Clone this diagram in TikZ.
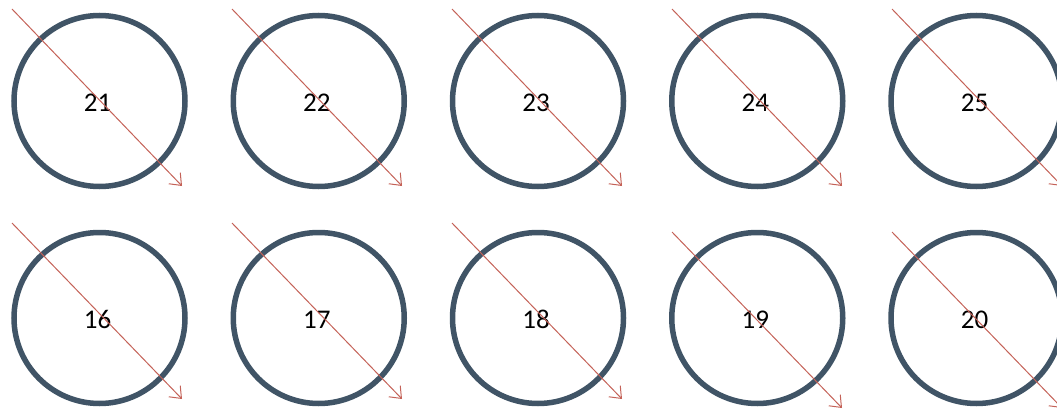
\documentclass[tikz,border=0pt]{standalone}
\usepackage{fontspec}
\setmainfont{Carlito}
\usetikzlibrary{arrows.meta}
\definecolor{ringcol}{RGB}{64,84,102}
\definecolor{arrcol}{RGB}{196,98,88}
\tikzset{
  ring/.style={circle, draw=ringcol, line width=5.5pt, minimum size=171pt, inner sep=0pt},
  numlabel/.style={font=\fontsize{27}{27}\selectfont, text=black, inner sep=0pt, anchor=base},
  redarrow/.style={draw=arrcol, line width=1pt, -{Straight Barb[length=10pt,width=16pt,line width=1pt]}}
}
\begin{document}
\begin{tikzpicture}[x=1pt,y=-1pt]
\useasboundingbox (0,0) rectangle (1057,412);
\foreach \i/\top/\bot/\ys in {0/21/16/223, 1/22/17/223, 2/23/18/223, 3/24/19/232, 4/25/20/232} {
  \pgfmathsetmacro{\cx}{99.5+219.25*\i}
  \pgfmathsetmacro{\sx}{12+220*\i}
  % top row
  \node[ring] (c\top) at (\cx,101) {};
  \node[numlabel] (t\top) at (\cx-2,111.5) {\top};
  \coordinate (s\top) at (\sx,9);
  \coordinate (e\top) at (\sx+170,186);
  \draw[redarrow] (s\top) -- (e\top);
  % bottom row
  \node[ring] (c\bot) at (\cx,318) {};
  \node[numlabel] (t\bot) at (\cx-2,328.5) {\bot};
  \coordinate (s\bot) at (\sx,\ys);
  \coordinate (e\bot) at (\sx+170,\ys+176);
  \draw[redarrow] (s\bot) -- (e\bot);
}
\end{tikzpicture}
\end{document}
